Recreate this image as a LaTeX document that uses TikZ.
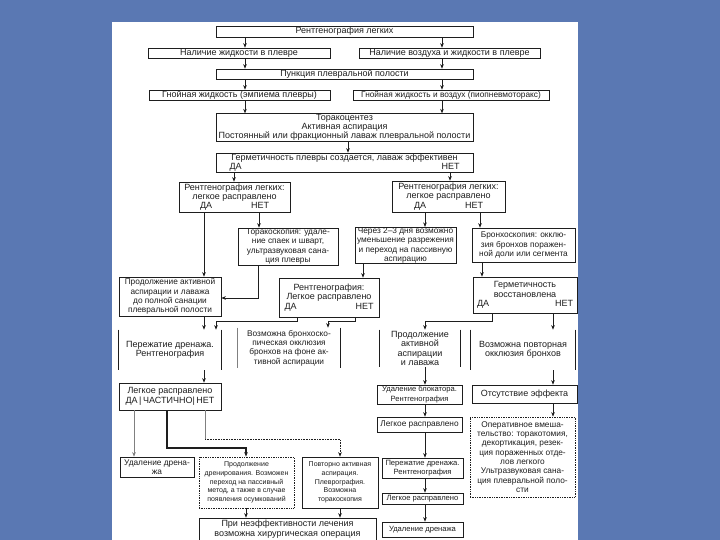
\documentclass[tikz,border=0pt]{standalone}
\usepackage{fontspec}
\setmainfont{Liberation Sans}
\usetikzlibrary{arrows.meta}
\definecolor{bgblue}{HTML}{5A78B3}
\definecolor{ink}{HTML}{1E1E1E}
\newcommand{\myfs}{\fontsize{9}{9.3}\selectfont}
\newcommand{\mymd}{\fontsize{8.3}{9.3}\selectfont}
\newcommand{\myxs}{\fontsize{7.6}{9.3}\selectfont}
\newcommand{\mysm}{\fontsize{7}{8.8}\selectfont}
\newcommand{\mybox}[7]{\node[#2, minimum width={(#5)-(#3)}, minimum height={(#6)-(#4)}] (#1) at ({((#3)+(#5))/2},{((#4)+(#6))/2}) {#7};}
\begin{document}
\begin{tikzpicture}[x=1pt,y=-1pt,
  box/.style={draw=ink, line width=0.7pt, inner sep=0.5pt, align=center, font=\myfs, text=ink},
  sides/.style={box, draw=none},
  dotbox/.style={box, densely dotted, line width=0.8pt},
  arr/.style={draw=ink, line width=0.6pt, -{Stealth[length=4.5pt,width=3.6pt]}},
  ln/.style={draw=ink, line width=0.6pt}]
\useasboundingbox (0,0) rectangle (720,540);
\fill[bgblue] (0,0) rectangle (720,540);
\fill[white] (112,22) rectangle (578,540);

% boxes
\mybox{b1}{box}{216}{26}{473}{37}{Рентгенография легких}
\mybox{b2}{box}{148}{48}{330}{58}{Наличие жидкости в плевре}
\mybox{b3}{box}{359}{48}{540}{58}{Наличие воздуха и жидкости в плевре}
\mybox{b4}{box}{216}{69}{473}{79}{Пункция плевральной полости}
\mybox{b5}{box}{149}{90}{330}{100}{Гнойная жидкость (эмпиема плевры)}
\mybox{b6}{box,font=\mymd}{353}{90}{549}{100}{Гнойная жидкость и воздух (пиопневмоторакс)}
\mybox{b7}{box}{216}{114}{473}{141}{Торакоцентез\\Активная аспирация\\Постоянный или фракционный лаваж плевральной полости}
\mybox{b8}{box}{216}{153}{473}{172}{Герметичность плевры создается, лаваж эффективен\\\makebox[230pt]{ДА\hfill НЕТ}}
\mybox{b9}{box}{179}{182}{290}{212}{Рентгенография легких:\\легкое расправлено\\\makebox[69pt]{ДА\hfill НЕТ}}
\mybox{b10}{box}{392}{181}{505}{212}{Рентгенография легких:\\легкое расправлено\\\makebox[69pt]{ДА\hfill НЕТ}}
\mybox{b11}{box,font=\mymd}{238}{228}{338}{265}{Торакоскопия: удале-\\ние спаек и шварт,\\ультразвуковая сана-\\ция плевры}
\mybox{b12}{box,font=\mymd}{355}{228}{456}{263}{Через 2–3 дня возможно\\уменьшение разрежения\\и переход на пассивную\\аспирацию}
\mybox{b13}{box,font=\mymd}{472}{228}{575}{262}{Бронхоскопия: окклю-\\зия бронхов поражен-\\ной доли или сегмента}
\mybox{b14}{box,font=\mymd}{119}{277}{221}{316}{Продолжение активной\\аспирации и лаважа\\до полной санации\\плевральной полости}
\mybox{b15}{box}{279}{278}{379}{317}{Рентгенография:\\Легкое расправлено\\\makebox[89pt]{ДА\hfill НЕТ}}
\mybox{b16}{box}{473}{277}{577}{313}{Герметичность\\восстановлена\\\makebox[96pt]{ДА\hfill НЕТ}}
\mybox{b17}{sides}{119}{330}{221}{370}{Пережатие дренажа.\\Рентгенография}
\mybox{b18}{sides,font=\mymd}{238}{328}{340}{368}{Возможна бронхоско-\\пическая окклюзия\\бронхов на фоне ак-\\тивной аспирации}
\mybox{b19}{sides}{380}{330}{460}{367}{Продолжение\\активной\\аспирации\\и лаважа}
\mybox{b20}{sides}{471}{330}{575}{370}{Возможна повторная\\окклюзия бронхов}
\mybox{b21}{box}{119}{383}{221}{410}{Легкое расправлено\\\makebox[88pt]{ДА\,|\,ЧАСТИЧНО\hfill|\,НЕТ}}
\mybox{b22}{box,font=\myxs}{377}{385}{462}{404}{Удаление блокатора.\\Рентгенография}
\mybox{b23}{box}{472}{385}{577}{403}{Отсутствие эффекта}
\mybox{b24}{box,font=\mymd}{377}{417}{462}{432}{Легкое расправлено}
\mybox{b25}{dotbox,font=\mymd}{470}{417}{575}{497}{Оперативное вмеша-\\тельство: торакотомия,\\декортикация, резек-\\ция пораженных отде-\\лов легкого\\Ультразвуковая сана-\\ция плевральной поло-\\сти}
\mybox{b26}{box,font=\mymd}{120}{457}{194}{477}{Удаление дрена-\\жа}
\mybox{b27}{dotbox,font=\mysm}{199}{457}{294}{508}{Продолжение\\дренирования. Возможен\\переход на пассивный\\метод, а также в случае\\появления осумкований}
\mybox{b28}{box,font=\mysm}{302}{457}{378}{508}{Повторно активная\\аспирация.\\Плеврография.\\Возможна\\торакоскопия}
\mybox{b29}{box}{199}{518}{376}{548}{При неэффективности лечения\\возможна хирургическая операция\\\mbox{}}
\mybox{b30}{box,font=\myxs}{382}{458}{463}{478}{Пережатие дренажа.\\Рентгенография}
\mybox{b31}{box,font=\myxs}{382}{493}{463}{504}{Легкое расправлено}
\mybox{b32}{box,font=\myxs}{382}{522}{463}{537}{Удаление дренажа}

% side-only boxes
\foreach \n in {b17,b19,b20} {\draw[ln, line width=0.8pt] (\n.north west) -- (\n.south west) (\n.north east) -- (\n.south east);}
\draw[ln, line width=0.6pt, gray] (b18.north west) -- (b18.south west);
\draw[ln, line width=1.3pt] (b18.north east) -- (b18.south east);

% guide coordinates
\coordinate (xL) at (245,0);
\coordinate (xR) at (442,0);
\coordinate (xM) at (348,0);
\coordinate (x8da) at (234,0);
\coordinate (x8nt) at (450,0);
\coordinate (x9da) at (204,0);
\coordinate (x9nt) at (259,0);
\coordinate (x10da) at (425,0);
\coordinate (x10nt) at (480,0);
\coordinate (x11) at (258,0);
\coordinate (x12) at (363,0);
\coordinate (x13) at (482,0);
\coordinate (x15da) at (297,0);
\coordinate (x15nt) at (355,0);
\coordinate (x16da) at (492,0);
\coordinate (x16nt) at (553,0);
\coordinate (x17b) at (216,0);
\coordinate (x18) at (328,0);
\coordinate (x21da) at (134,0);
\coordinate (x21ch) at (167,0);
\coordinate (x21nt) at (205,0);
\coordinate (x27) at (246,0);
\coordinate (x28) at (340,0);
\coordinate (xC) at (425,0);
\coordinate (yA) at (0,298);
\coordinate (yB) at (0,321);
\coordinate (yC) at (0,448);
\coordinate (yD) at (0,439);

% connectors
\draw[arr] (b1.south -| xL) -- (b2.north -| xL);
\draw[arr] (b1.south -| xR) -- (b3.north -| xR);
\draw[arr] (b2.south -| xL) -- (b4.north -| xL);
\draw[arr] (b3.south -| xR) -- (b4.north -| xR);
\draw[arr] (b4.south -| xL) -- (b5.north -| xL);
\draw[arr] (b4.south -| xR) -- (b6.north -| xR);
\draw[arr] (b5.south -| xL) -- (b7.north -| xL);
\draw[arr] (b6.south -| xR) -- (b7.north -| xR);
\draw[arr] (b7.south -| xM) -- (b8.north -| xM);
\draw[arr] (b8.south -| x8da) -- (b9.north -| x8da);
\draw[arr] (b8.south -| x8nt) -- (b10.north -| x8nt);
\draw[arr] (b9.south -| x9da) -- (b14.north -| x9da);
\draw[arr] (b9.south -| x9nt) -- (b11.north -| x9nt);
\draw[arr] (b10.south -| x10da) -- (b12.north -| x10da);
\draw[arr] (b10.south -| x10nt) -- (b13.north -| x10nt);
\draw[arr] (b11.south -| x11) -- (x11 |- yA) -- (b14.east |- yA);
\draw[arr] (b12.south -| x12) -- (b15.north -| x12);
\draw[arr] (b13.south -| x13) -- (b16.north -| x13);
\draw[arr] (b14.south -| x9da) -- (b17.north -| x9da);
\draw[arr] (b15.south -| x15da) -- (x15da |- yB) -- (x17b |- yB) -- (b17.north -| x17b);
\draw[arr] (b15.south -| x15nt) -- (x15nt |- yB) -- (x18 |- yB) -- (b18.north -| x18);
\draw[arr] (b16.south -| x16da) -- (x16da |- yB) -- (xC |- yB) -- (b19.north -| xC);
\draw[arr] (b16.south -| x16nt) -- (b20.north -| x16nt);
\draw[arr] (b17.south -| x9da) -- (b21.north -| x9da);
\draw[arr] (b19.south -| xC) -- (b22.north -| xC);
\draw[arr] (b20.south -| x16nt) -- (b23.north -| x16nt);
\draw[arr] (b22.south -| xC) -- (b24.north -| xC);
\draw[arr] (b23.south -| x16nt) -- (b25.north -| x16nt);
\draw[arr] (b24.south -| xC) -- (b30.north -| xC);
\draw[arr] (b30.south -| xC) -- (b31.north -| xC);
\draw[arr] (b31.south -| xC) -- (b32.north -| xC);
\draw[arr, draw=gray] (b21.south -| x21da) -- (b26.north -| x21da);
\draw[arr, line width=1.1pt] (b21.south -| x21ch) -- (x21ch |- yC) -- (x27 |- yC) -- (b27.north -| x27);
\draw[ln, draw=gray] (b21.south -| x21nt) -- (x21nt |- yD);
\draw[arr, densely dotted] (x21nt |- yD) -- (x28 |- yD) -- (b28.north -| x28);
\draw[arr] (b27.south -| x27) -- (b29.north -| x27);
\draw[arr] (b28.south -| x28) -- (b29.north -| x28);
\end{tikzpicture}
\end{document}
